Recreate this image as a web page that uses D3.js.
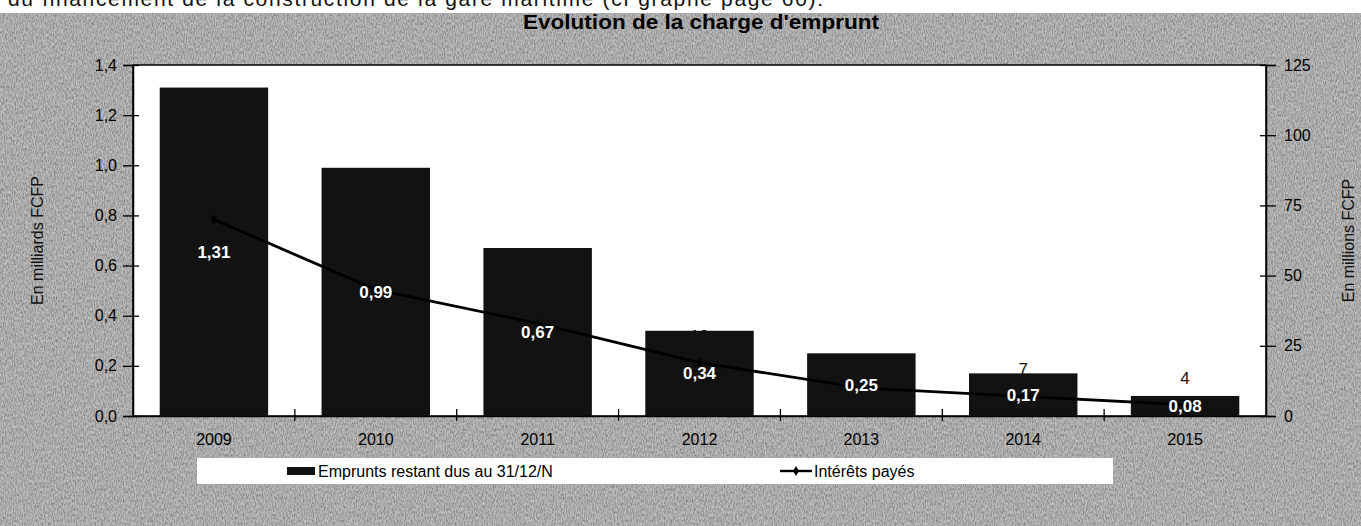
<!DOCTYPE html>
<html>
<head>
<meta charset="utf-8">
<script src="https://cdn.jsdelivr.net/npm/d3@7"></script>
<style>
  html, body { margin: 0; padding: 0; background: #fff; }
  svg { display: block; font-family: "Liberation Sans", Arial, sans-serif; }
</style>
</head>
<body>
<svg id="chart"></svg>
<script>
const years = ['2009', '2010', '2011', '2012', '2013', '2014', '2015'];
const emprunts = [1.31, 0.99, 0.67, 0.34, 0.25, 0.17, 0.08];   // milliards FCFP
const interets = [70, 45, 33, 19, 10, 7, 4];                    // millions FCFP
const leftTicks = [0, 0.2, 0.4, 0.6, 0.8, 1.0, 1.2, 1.4];
const rightTicks = [0, 25, 50, 75, 100, 125];

const W = 1361, H = 526;
const plot = { left: 133, right: 1266, top: 65, bottom: 416 };
const frFmt = d3.formatLocale({ decimal: ',', thousands: ' ', grouping: [3], currency: ['', ''] });
const f1 = frFmt.format('.1f');
const f2 = frFmt.format('.2f');
const barColor = '#121212';

const svg = d3.select('#chart').attr('width', W).attr('height', H);

// scanned grey page
const defs = svg.append('defs');
const noise = defs.append('filter').attr('id', 'grain').attr('x', 0).attr('y', 0).attr('width', '100%').attr('height', '100%');
noise.append('feTurbulence').attr('type', 'fractalNoise').attr('baseFrequency', '0.9 0.35').attr('numOctaves', 2).attr('seed', 3);
noise.append('feColorMatrix').attr('type', 'matrix')
    .attr('values', '0 0 0 0 0  0 0 0 0 0  0 0 0 0 0  0 0 0 -1.6 1.05');

svg.append('rect').attr('x', 0).attr('y', 0).attr('width', W).attr('height', H).attr('fill', '#fff');
svg.append('rect').attr('x', 0).attr('y', 13).attr('width', W).attr('height', H - 13).attr('fill', '#bdbdbd');
svg.append('rect').attr('x', 0).attr('y', 13).attr('width', W).attr('height', H - 13)
    .attr('filter', 'url(#grain)').attr('opacity', 0.4);

// line of body text above the chart, cut by the page edge as in the scan
svg.append('text')
    .attr('x', 8).attr('y', 6)
    .attr('font-size', 21)
    .attr('textLength', 815)
    .attr('fill', '#111')
    .text('du financement de la construction de la gare maritime (cf graphe page 60).');

// plot area
svg.append('rect')
    .attr('x', plot.left).attr('y', plot.top)
    .attr('width', plot.right - plot.left).attr('height', plot.bottom - plot.top)
    .attr('fill', '#fff').attr('stroke', '#000').attr('stroke-width', 1.5);

const x = d3.scaleBand().domain(years).range([plot.left, plot.right]).paddingInner(0.33).paddingOuter(0.165);
const yL = d3.scaleLinear().domain([0, 1.4]).range([plot.bottom, plot.top]);
const yR = d3.scaleLinear().domain([0, 125]).range([plot.bottom, plot.top]);

// bars
svg.append('g').selectAll('rect').data(years).join('rect')
    .attr('x', d => x(d))
    .attr('y', (d, i) => yL(emprunts[i]))
    .attr('width', x.bandwidth())
    .attr('height', (d, i) => yL(0) - yL(emprunts[i]))
    .attr('fill', barColor);

// axes
const axL = svg.append('g').attr('transform', `translate(${plot.left},0)`)
    .call(d3.axisLeft(yL).tickValues(leftTicks).tickFormat(f1).tickSize(10).tickPadding(6));
const axR = svg.append('g').attr('transform', `translate(${plot.right},0)`)
    .call(d3.axisRight(yR).tickValues(rightTicks).tickSize(10).tickPadding(8));
const axB = svg.append('g').attr('transform', `translate(0,${plot.bottom})`)
    .call(d3.axisBottom(x).tickSize(0).tickPadding(18));

[axL, axR, axB].forEach(g => {
    g.select('.domain').attr('stroke', '#000').attr('stroke-width', 1.5);
    g.selectAll('text').attr('font-size', 16).attr('fill', '#000').attr('font-family', '"Liberation Sans", Arial, sans-serif');
    g.selectAll('line').attr('stroke', '#000').attr('stroke-width', 1.3);
});
// left/right ticks cross the axis line
axL.selectAll('.tick line').attr('x1', 6);
axR.selectAll('.tick line').attr('x1', -6);

// category boundary ticks on the x axis
const step = x.step();
svg.append('g').selectAll('line').data(years.slice(1)).join('line')
    .attr('x1', d => x(d) - (step - x.bandwidth()) / 2)
    .attr('x2', d => x(d) - (step - x.bandwidth()) / 2)
    .attr('y1', plot.bottom - 7).attr('y2', plot.bottom + 5)
    .attr('stroke', '#000').attr('stroke-width', 1.3);

// axis titles
svg.append('text')
    .attr('transform', `translate(43,${(plot.top + plot.bottom) / 2}) rotate(-90)`)
    .attr('text-anchor', 'middle').attr('font-size', 16).attr('fill', '#111')
    .text('En milliards FCFP');
svg.append('text')
    .attr('transform', `translate(1354,${(plot.top + plot.bottom) / 2}) rotate(-90)`)
    .attr('text-anchor', 'middle').attr('font-size', 16).attr('fill', '#111')
    .text('En millions FCFP');

// title
svg.append('text')
    .attr('x', 701).attr('y', 29)
    .attr('text-anchor', 'middle').attr('font-size', 20).attr('font-weight', 'bold').attr('fill', '#000')
    .attr('textLength', 356).attr('lengthAdjust', 'spacingAndGlyphs')
    .text("Evolution de la charge d'emprunt");

// interest line
const cx = d => x(d) + x.bandwidth() / 2;
const line = d3.line().x((d, i) => cx(years[i])).y(d => yR(d));
svg.append('path').datum(interets)
    .attr('d', line)
    .attr('fill', 'none').attr('stroke', '#000').attr('stroke-width', 2.8);
svg.append('g').selectAll('path').data(interets).join('path')
    .attr('transform', (d, i) => `translate(${cx(years[i])},${yR(d)})`)
    .attr('d', d3.symbol(d3.symbolDiamond, 30))
    .attr('fill', '#000');

// line value labels (black, mostly lost on the dark bars)
svg.append('g').selectAll('text').data(interets).join('text')
    .attr('x', (d, i) => cx(years[i]))
    .attr('y', d => yR(d) - 21)
    .attr('text-anchor', 'middle').attr('font-size', 17).attr('fill', barColor)
    .text(d => d);

// bar value labels
svg.append('g').selectAll('text').data(emprunts).join('text')
    .attr('x', (d, i) => cx(years[i]))
    .attr('y', d => (yL(d) + yL(0)) / 2 + 6)
    .attr('text-anchor', 'middle').attr('font-size', 17).attr('font-weight', 'bold').attr('fill', '#fff')
    .text(d => f2(d));

// legend
const lg = svg.append('g');
lg.append('rect').attr('x', 197).attr('y', 458).attr('width', 916).attr('height', 26).attr('fill', '#fff');
lg.append('rect').attr('x', 287).attr('y', 467).attr('width', 28).attr('height', 8).attr('fill', barColor);
lg.append('text').attr('x', 318).attr('y', 477).attr('font-size', 16).attr('fill', '#000')
    .text('Emprunts restant dus au 31/12/N');
lg.append('line').attr('x1', 780).attr('x2', 812).attr('y1', 471).attr('y2', 471)
    .attr('stroke', '#000').attr('stroke-width', 2.4);
lg.append('path').attr('transform', 'translate(796,471)').attr('d', d3.symbol(d3.symbolDiamond, 30)).attr('fill', '#000');
lg.append('text').attr('x', 814).attr('y', 477).attr('font-size', 16).attr('fill', '#000')
    .text('Intérêts payés');
</script>
</body>
</html>
